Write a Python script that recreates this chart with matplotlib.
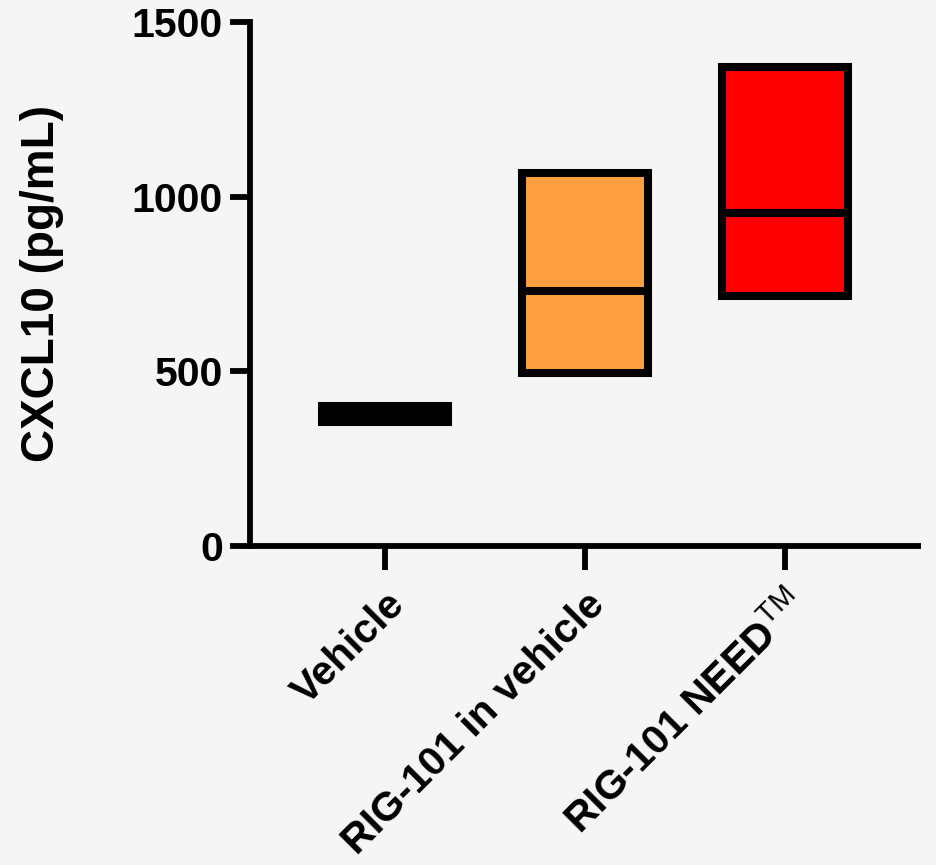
import matplotlib
matplotlib.use("Agg")
import matplotlib.pyplot as plt

plt.rcParams['font.family'] = ['Liberation Sans', 'DejaVu Sans']
plt.rcParams['mathtext.fontset'] = 'custom'
plt.rcParams['mathtext.rm'] = 'Liberation Sans'
plt.rcParams['mathtext.bf'] = 'Liberation Sans:bold'

# floating bars: min to max, line at median
groups = ["Vehicle", "RIG-101 in vehicle", r"RIG-101 NEED$^{\mathrm{TM}}$"]
lows = [354, 494, 717]
highs = [400, 1069, 1370]
medians = [376, 731, 954]
colors = ["black", "#ffa040", "#ff0000"]

bg = "#f5f5f5"
my_dpi = 100
fig = plt.figure(figsize=(936/my_dpi, 865/my_dpi), dpi=my_dpi, facecolor=bg)
ax = fig.add_axes([250/936, 319/865, 671/936, 524/865], facecolor=bg)

xs = list(range(len(groups)))
lw = 5.8
for x, lo, hi, med, c in zip(xs, lows, highs, medians, colors):
    ax.bar(x, hi - lo, bottom=lo, width=0.63, color=c, edgecolor="black",
           linewidth=lw, zorder=2)
    ax.hlines(med, x - 0.335, x + 0.335, color="black", linewidth=lw,
              capstyle="butt", zorder=3)

ax.set_xlim(-0.675, 2.68)
ax.set_ylim(0, 1500)
ax.set_yticks([0, 500, 1000, 1500])
ax.set_xticks(xs)
ax.set_xticklabels(groups, rotation=45, ha="right", va="top",
                   rotation_mode="anchor", fontsize=29.5, fontweight="bold")
for lab in ax.get_yticklabels():
    lab.set_fontsize(29.5)
    lab.set_fontweight("bold")

for side in ["top", "right"]:
    ax.spines[side].set_visible(False)
for side in ["left", "bottom"]:
    ax.spines[side].set_linewidth(4.2)
ax.spines["bottom"].set_capstyle("butt")

ax.tick_params(axis="y", length=14.5, width=4.2, pad=5)
ax.tick_params(axis="x", length=17, width=4.2, pad=11)

ax.set_ylabel("CXCL10 (pg/mL)", fontsize=33, fontweight="bold", labelpad=49)

fig.savefig("out.png", dpi=my_dpi, facecolor=bg)
